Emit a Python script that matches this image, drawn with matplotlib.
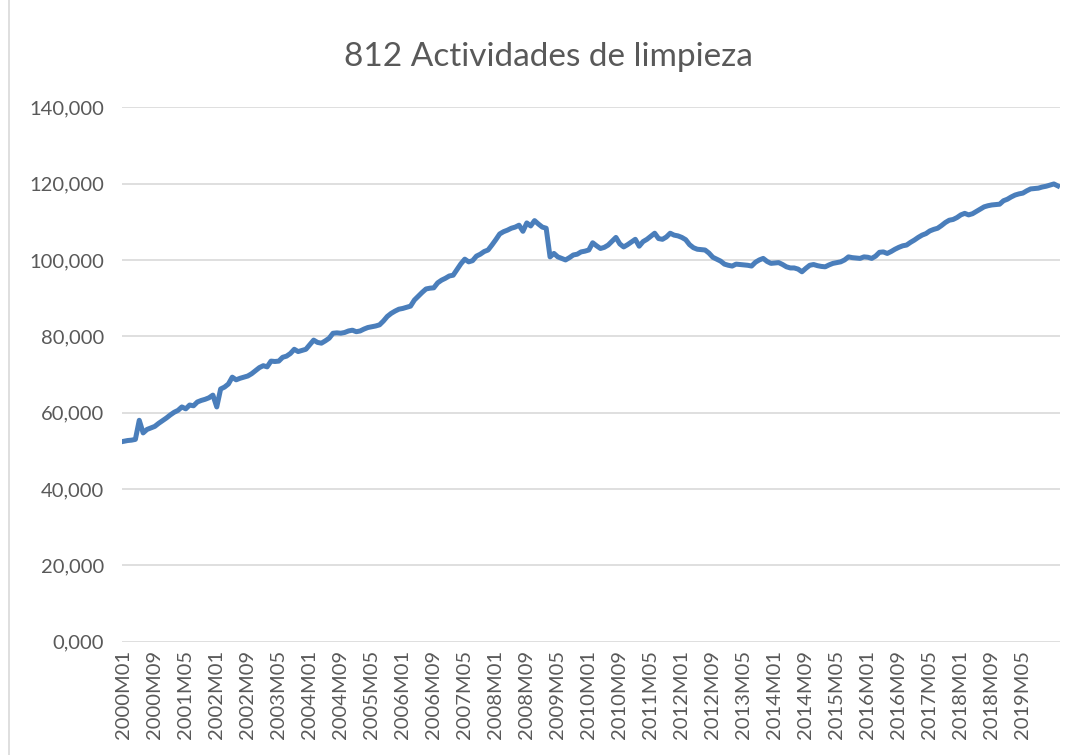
import matplotlib.pyplot as plt
from matplotlib.patches import Rectangle

# Serie mensual 2000M01 - 2020M02
titulo = "812 Actividades de limpieza"
valores = [
    # 2000
    52500, 52700, 52800, 53000, 58000, 54700, 55600, 56000, 56400, 57200, 57900, 58600,
    # 2001
    59400, 60100, 60600, 61500, 61000, 62000, 61800, 62800, 63200, 63500, 63900, 64600,
    # 2002
    61500, 66200, 66700, 67500, 69300, 68600, 69000, 69300, 69600, 70200, 71000, 71800,
    # 2003
    72300, 72000, 73500, 73400, 73500, 74500, 74800, 75500, 76600, 76000, 76300, 76600,
    # 2004
    77800, 79000, 78400, 78200, 78800, 79500, 80800, 80900, 80800, 81000, 81400, 81600,
    # 2005
    81200, 81400, 81900, 82300, 82500, 82700, 83000, 84000, 85200, 86000, 86600, 87100,
    # 2006
    87300, 87600, 87900, 89500, 90500, 91500, 92400, 92600, 92700, 94000, 94700, 95200,
    # 2007
    95800, 96000, 97500, 99000, 100200, 99500, 99800, 101000, 101500, 102200, 102600, 103900,
    # 2008
    105300, 106800, 107400, 107800, 108300, 108600, 109100, 107500, 109700, 108900, 110300, 109400,
    # 2009
    108600, 108300, 100800, 101700, 100800, 100400, 100000, 100600, 101300, 101500, 102100, 102300,
    # 2010
    102600, 104500, 103700, 103000, 103300, 103900, 104900, 105900, 104200, 103400, 104000, 104700,
    # 2011
    105400, 103600, 104800, 105400, 106200, 107000, 105600, 105400, 106000, 107000, 106500, 106300,
    # 2012
    105900, 105300, 104000, 103200, 102800, 102700, 102600, 101800, 100700, 100200, 99700, 98900,
    # 2013
    98600, 98400, 98900, 98800, 98700, 98600, 98400, 99400, 100000, 100400, 99600, 99100,
    # 2014
    99200, 99300, 98800, 98200, 97900, 97900, 97600, 96900, 97800, 98600, 98800, 98500,
    # 2015
    98300, 98200, 98700, 99100, 99300, 99500, 100000, 100800, 100600, 100500, 100400, 100800,
    # 2016
    100700, 100400, 101000, 102000, 102100, 101700, 102200, 102800, 103300, 103700, 103900, 104600,
    # 2017
    105200, 105900, 106500, 106900, 107600, 108000, 108300, 109000, 109800, 110400, 110600, 111100,
    # 2018
    111800, 112200, 111800, 112100, 112700, 113300, 113900, 114200, 114400, 114500, 114600, 115500,
    # 2019
    115900, 116500, 117000, 117300, 117500, 118100, 118600, 118700, 118800, 119100, 119300, 119600,
    # 2020
    119900, 119400,
]
periodos = [f"{2000 + k // 12}M{k % 12 + 1:02d}" for k in range(len(valores))]
ultima_etiqueta = "2019M05"
yticks = [0, 20000, 40000, 60000, 80000, 100000, 120000, 140000]

plt.rcParams['font.family'] = ['Lato', 'DejaVu Sans']
gris = '#595959'

fig = plt.figure(figsize=(10.78, 7.55), dpi=100)
ax = fig.add_axes([0.113, 0.150, 0.870, 0.708])

x = list(range(len(valores)))
ax.plot(x, valores, color='#4A7EBB', linewidth=3.6, solid_joinstyle='round')

ax.set_xlim(-0.5, len(valores) - 0.5)
ax.set_ylim(0, 140000)
ax.set_yticks(yticks)
ax.set_yticklabels([f"{v // 1000},000" for v in yticks])

# etiquetas cada 8 meses, hasta la última que muestra el original
fin = periodos.index(ultima_etiqueta) + 1
ax.set_xticks(x[:fin:8])
ax.set_xticklabels(periodos[:fin:8], rotation=90)

ax.tick_params(axis='both', length=0, colors=gris, labelsize=14.5)
ax.tick_params(axis='y', pad=13)
ax.tick_params(axis='x', pad=6)
ax.grid(axis='y', color='#D9D9D9', linewidth=1.2)
ax.set_axisbelow(True)
for s in ax.spines.values():
    s.set_visible(False)

fig.text(0.509, 0.924, titulo, ha='center', va='center', fontsize=24, color=gris)
fig.patches.append(Rectangle((0.008, -0.01), 1.5, 1.5, transform=fig.transFigure,
                             fill=False, edgecolor='#D9D9D9', linewidth=1.2))

fig.savefig('out.png', dpi=100)
